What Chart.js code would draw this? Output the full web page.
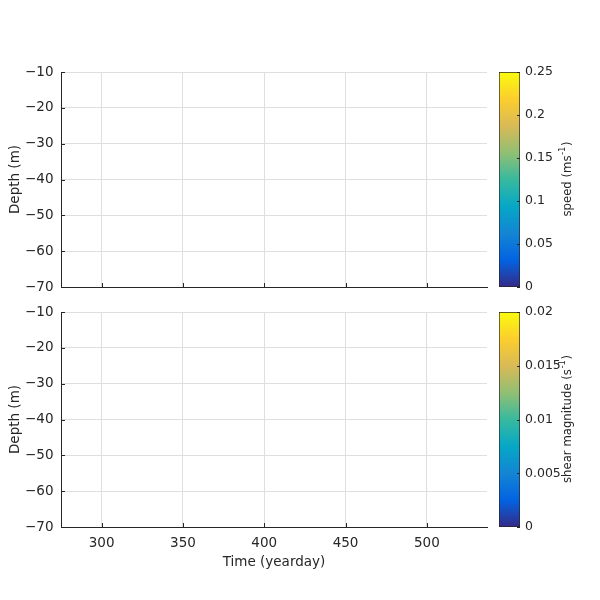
<!DOCTYPE html>
<html>
  <head>
    <title>Speed and shear</title>
    <meta charset="UTF-8">
    <script src="https://cdn.jsdelivr.net/npm/chart.js"></script>
    <style>
      body { margin: 0; background: #fff; }
      #wrap { position: relative; width: 600px; height: 600px; }
      #wrap canvas { position: absolute; left: 0; top: 0; }
    </style>
  </head>
  <body>
    <div id="wrap">
      <canvas id="speedChart" width="600" height="600"></canvas>
      <canvas id="speedBar" width="600" height="600"></canvas>
      <canvas id="shearChart" width="600" height="600"></canvas>
      <canvas id="shearBar" width="600" height="600"></canvas>
    </div>
    <script>
      // axis ranges and ticks
      const timeRange   = [275, 537];
      const timeTicks   = [300, 350, 400, 450, 500];
      const depthRange  = [-70, -10];
      const depthTicks  = [-70, -60, -50, -40, -30, -20, -10];

      // colour bar ranges and ticks
      const speedRange  = [0, 0.25];
      const speedTicks  = [0, 0.05, 0.1, 0.15, 0.2, 0.25];
      const shearRange  = [0, 0.02];
      const shearTicks  = [0, 0.005, 0.01, 0.015, 0.02];

      // no valid cells in either field, so both panels stay empty
      const speedCells = [];
      const shearCells = [];

      // parula
      const parula = ['#352a87', '#0363e1', '#1485d4', '#06a7c6', '#38b99e',
                      '#92bf73', '#d9ba56', '#fcce2e', '#f9fb0e'];

      const axisColor = '#262626';
      const gridColor = '#dfdfdf';
      const fontFamily = "'DejaVu Sans', sans-serif";

      Chart.defaults.font.family = fontFamily;
      Chart.defaults.color = axisColor;

      // MATLAB style ticks pointing into the plot
      const inwardTicks = {
        id: 'inwardTicks',
        afterDraw(chart, args, opts) {
          const ctx = chart.ctx;
          const a = chart.chartArea;
          const len = opts.length || 4;
          ctx.save();
          ctx.strokeStyle = axisColor;
          ctx.lineWidth = 1;
          ctx.beginPath();
          if (opts.bottom) {
            const sx = chart.scales.x;
            sx.ticks.forEach(t => {
              const px = Math.round(sx.getPixelForValue(t.value)) + 0.5;
              ctx.moveTo(px, a.bottom);
              ctx.lineTo(px, a.bottom - len);
            });
          }
          if (opts.left || opts.right) {
            const sy = chart.scales.y;
            sy.ticks.forEach(t => {
              const py = Math.round(sy.getPixelForValue(t.value)) + 0.5;
              const x0 = opts.left ? a.left : a.right;
              const dir = opts.left ? 1 : -1;
              ctx.moveTo(x0, py);
              ctx.lineTo(x0 + dir * len, py);
            });
          }
          ctx.stroke();
          ctx.restore();
        }
      };

      // rotated colour bar label with a real superscript
      const barLabel = {
        id: 'barLabel',
        afterDraw(chart, args, opts) {
          const ctx = chart.ctx;
          const a = chart.chartArea;
          const size = 11.7;
          const supSize = 8.5;
          ctx.save();
          ctx.fillStyle = axisColor;
          ctx.textBaseline = 'middle';
          ctx.font = size + 'px ' + fontFamily;
          const w1 = ctx.measureText(opts.text).width;
          const w3 = ctx.measureText(')').width;
          ctx.font = supSize + 'px ' + fontFamily;
          const w2 = ctx.measureText(opts.sup).width;
          const total = w1 + w2 + w3;
          ctx.translate(opts.x, (a.top + a.bottom) / 2);
          ctx.rotate(-Math.PI / 2);
          let x = -total / 2;
          ctx.textAlign = 'left';
          ctx.font = size + 'px ' + fontFamily;
          ctx.fillText(opts.text, x, 0);
          x += w1 + 0.5;
          ctx.font = supSize + 'px ' + fontFamily;
          ctx.fillText(opts.sup, x, -5);
          x += w2 + 0.5;
          ctx.font = size + 'px ' + fontFamily;
          ctx.fillText(')', x, 0);
          ctx.restore();
        }
      };

      const minus = v => (v < 0 ? '\u2212' + Math.abs(v) : String(v));

      function panel(id, cells, top, bottom, showTime) {
        return new Chart(document.getElementById(id), {
          type: 'scatter',
          data: { datasets: [{ data: cells, pointRadius: 0 }] },
          plugins: [inwardTicks],
          options: {
            responsive: false,
            animation: false,
            devicePixelRatio: 1,
            layout: { padding: { left: 0, right: 113, top: top, bottom: showTime ? 0 : 600 - bottom } },
            plugins: {
              legend: { display: false },
              tooltip: { enabled: false },
              inwardTicks: { bottom: true, left: true, length: 4 }
            },
            scales: {
              x: {
                type: 'linear',
                min: timeRange[0],
                max: timeRange[1],
                afterBuildTicks: s => { s.ticks = timeTicks.map(v => ({ value: v })); },
                afterFit: s => { s.height = showTime ? 600 - bottom : 0; },
                grid: { color: gridColor, drawTicks: false },
                border: { display: true, color: axisColor, width: 1 },
                ticks: { display: showTime, padding: 8, maxRotation: 0, font: { size: 13.5 }, color: axisColor },
                title: { display: showTime, text: 'Time (yearday)', padding: 29, font: { size: 13.5 }, color: axisColor }
              },
              y: {
                type: 'linear',
                min: depthRange[0],
                max: depthRange[1],
                afterBuildTicks: s => { s.ticks = depthTicks.map(v => ({ value: v })); },
                afterFit: s => { s.width = 61; },
                grid: { color: gridColor, drawTicks: false },
                border: { display: true, color: axisColor, width: 1 },
                ticks: { padding: 7.5, font: { size: 13.5 }, color: axisColor, callback: v => minus(v) },
                title: { display: true, text: 'Depth (m)', padding: 7, font: { size: 13.5 }, color: axisColor }
              }
            }
          }
        });
      }

      function colourBar(id, range, ticks, top, bottom, text, sup) {
        return new Chart(document.getElementById(id), {
          type: 'bar',
          data: {
            labels: [''],
            datasets: [{
              data: [range],
              barPercentage: 1,
              categoryPercentage: 1,
              borderWidth: 1,
              borderColor: axisColor,
              borderSkipped: false,
              backgroundColor: c => {
                const a = c.chart.chartArea;
                if (!a) return parula[0];
                const g = c.chart.ctx.createLinearGradient(0, a.bottom, 0, a.top);
                parula.forEach((col, i) => g.addColorStop(i / (parula.length - 1), col));
                return g;
              }
            }]
          },
          plugins: [inwardTicks, barLabel],
          options: {
            responsive: false,
            animation: false,
            devicePixelRatio: 1,
            layout: { padding: { left: 499, right: 30, top: top, bottom: 600 - bottom } },
            plugins: {
              legend: { display: false },
              tooltip: { enabled: false },
              inwardTicks: { right: true, length: 3 },
              barLabel: { text: text, sup: sup, x: 568 }
            },
            scales: {
              x: { display: false },
              y: {
                position: 'right',
                min: range[0],
                max: range[1],
                afterBuildTicks: s => { s.ticks = ticks.map(v => ({ value: v })); },
                afterFit: s => { s.width = 50; },
                grid: { display: false, drawTicks: false },
                border: { display: false },
                ticks: { padding: 5, font: { size: 12.5 }, color: axisColor, callback: v => String(v) }
              }
            }
          }
        });
      }

      panel('speedChart', speedCells, 72, 287, false);
      colourBar('speedBar', speedRange, speedTicks, 72, 287, 'speed (ms', '-1');
      panel('shearChart', shearCells, 312, 527, true);
      colourBar('shearBar', shearRange, shearTicks, 312, 527, 'shear magnitude (s', '-1');
    </script>
  </body>
</html>
